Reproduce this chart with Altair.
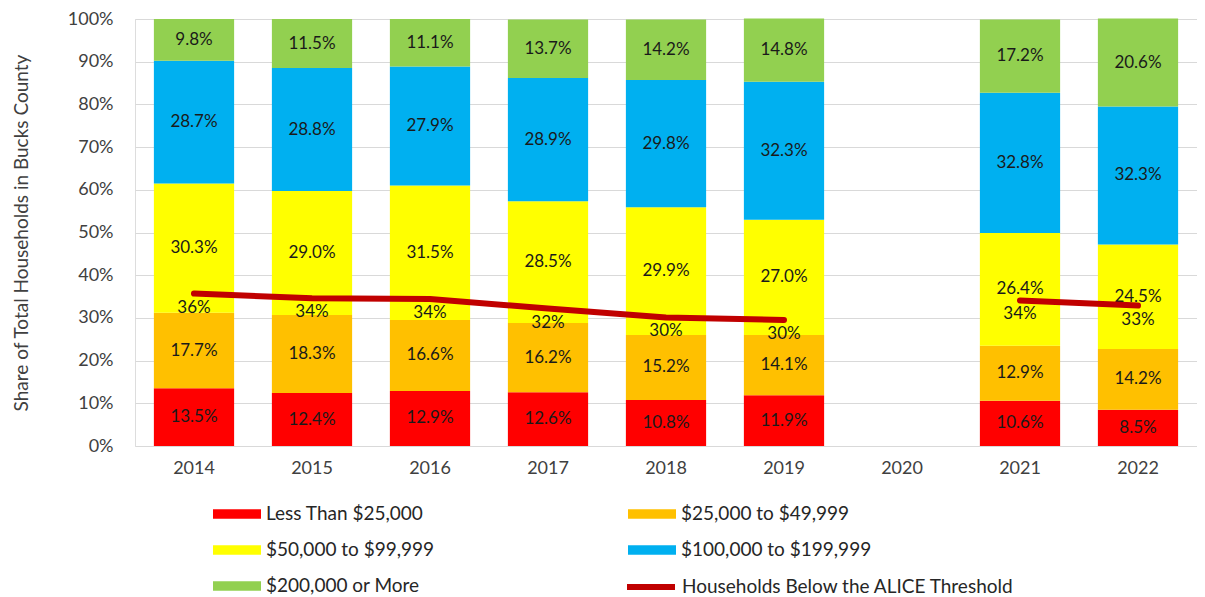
import altair as alt
import pandas as pd

# ---- data ----
years = ["2014", "2015", "2016", "2017", "2018", "2019", "2020", "2021", "2022"]
bar_years = ["2014", "2015", "2016", "2017", "2018", "2019", "2021", "2022"]
series = ["Less Than $25,000", "$25,000 to $49,999", "$50,000 to $99,999",
          "$100,000 to $199,999", "$200,000 or More"]
colors = ["#FF0000", "#FFC000", "#FFFF00", "#00B0F0", "#92D050"]
# legend is laid out column by column
legend_order = [series[0], series[2], series[4], series[1], series[3]]

lt25 = [13.5, 12.4, 12.9, 12.6, 10.8, 11.9, 10.6, 8.5]
b25_50 = [17.7, 18.3, 16.6, 16.2, 15.2, 14.1, 12.9, 14.2]
b50_100 = [30.3, 29.0, 31.5, 28.5, 29.9, 27.0, 26.4, 24.5]
b100_200 = [28.7, 28.8, 27.9, 28.9, 29.8, 32.3, 32.8, 32.3]
gt200 = [9.8, 11.5, 11.1, 13.7, 14.2, 14.8, 17.2, 20.6]

alice_name = "Households Below the ALICE Threshold"
alice = [35.7, 34.6, 34.4, 32.2, 30.1, 29.5, 34.1, 32.9]
alice_labels = ["36%", "34%", "34%", "32%", "30%", "30%", "34%", "33%"]

FONT = "Lato"

rows = []
for si, (name, vals) in enumerate(zip(series, [lt25, b25_50, b50_100, b100_200, gt200])):
    for y, v in zip(bar_years, vals):
        rows.append({"year": y, "series": name, "order": si, "value": v})
bars_df = pd.DataFrame(rows)

line_df = pd.DataFrame({"year": bar_years, "alice": alice, "label": alice_labels,
                        "name": alice_name})

x_enc = alt.X("year:N",
              scale=alt.Scale(domain=years, paddingInner=0.32, paddingOuter=0.16),
              axis=alt.Axis(title=None, labelAngle=0, ticks=False, domain=False,
                            labelPadding=13, labelFontSize=18, labelColor="#404040",
                            labelFont=FONT, grid=False))

y_scale = alt.Scale(domain=[0, 100], nice=False)

base = alt.Chart(bars_df).transform_stack(
    stack="value", groupby=["year"], sort=[alt.SortField("order")], as_=["y0", "y1"]
).transform_calculate(
    mid="(datum.y0 + datum.y1) / 2",
    txt="format(datum.value, '.1f') + '%'"
)

bars = base.mark_bar(stroke=None).encode(
    x=x_enc,
    y=alt.Y("y0:Q", scale=y_scale,
            axis=alt.Axis(title="Share of Total Households in Bucks County",
                          values=list(range(0, 101, 10)),
                          labelExpr="datum.value + '%'",
                          ticks=False, domain=False, labelPadding=22,
                          labelFontSize=18, labelColor="#404040", labelFont=FONT,
                          titleFont=FONT, titleFontSize=19, titleFontWeight="normal",
                          titleColor="#404040", titleX=-114, titleBaseline="middle",
                          gridColor="#d9d9d9", gridWidth=1)),
    y2="y1:Q",
    fill=alt.Fill("series:N",
                  scale=alt.Scale(domain=series, range=colors),
                  legend=alt.Legend(title=None, orient="none", legendX=78, legendY=471,
                                    values=legend_order,
                                    columns=2, columnPadding=193, rowPadding=2,
                                    symbolType="M-1,-0.2H1V0.2H-1Z", symbolSize=2304,
                                    symbolStrokeWidth=0, labelOffset=5,
                                    labelFont=FONT, labelFontSize=19,
                                    labelColor="#262626", labelLimit=400)),
)

bar_text = base.mark_text(font=FONT, fontSize=17, color="#1a1a1a").encode(
    x=alt.X("year:N", scale=alt.Scale(domain=years)),
    y=alt.Y("mid:Q", scale=y_scale),
    text="txt:N",
)

line = alt.Chart(line_df).transform_calculate(
    seg="datum.year < '2020' ? 'a' : 'b'"
).mark_line(strokeWidth=6, strokeCap="round", strokeJoin="round").encode(
    x=alt.X("year:N", scale=alt.Scale(domain=years)),
    y=alt.Y("alice:Q", scale=y_scale),
    detail="seg:N",
    stroke=alt.Stroke("name:N",
                      scale=alt.Scale(domain=[alice_name], range=["#C00000"]),
                      legend=alt.Legend(title=None, orient="none", legendX=489, legendY=541,
                                        symbolType="stroke", symbolSize=2304,
                                        symbolStrokeWidth=6, labelOffset=4,
                                        labelFont=FONT, labelFontSize=19,
                                        labelColor="#262626", labelLimit=400)),
)

line_text = alt.Chart(line_df).mark_text(font=FONT, fontSize=17, color="#1a1a1a", dy=14).encode(
    x=alt.X("year:N", scale=alt.Scale(domain=years)),
    y=alt.Y("alice:Q", scale=y_scale),
    text="label:N",
)

chart = alt.layer(bars, bar_text, line, line_text).properties(
    width=1062, height=427,
    autosize=alt.AutoSizeParams(type="none"),
    padding={"left": 127, "top": 11, "right": 0, "bottom": 151},
).configure_view(stroke=None).configure(background="white")

chart.save("out.html", embed_options={"renderer": "svg", "actions": False})
